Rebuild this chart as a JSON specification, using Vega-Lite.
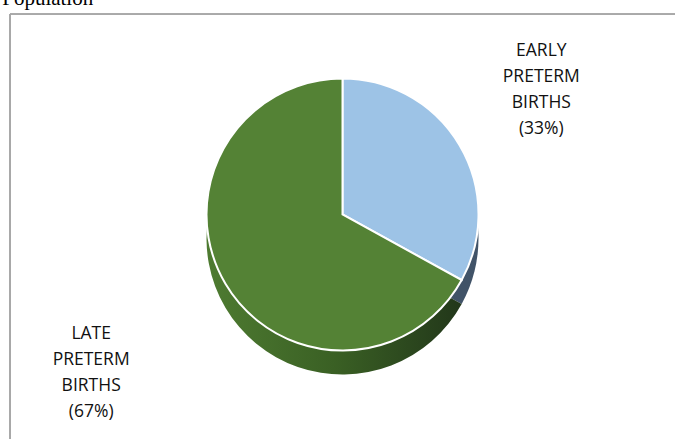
{
  "$schema": "https://vega.github.io/schema/vega-lite/v6.json",
  "autosize": {"type": "none"},
  "width": 665,
  "height": 425,
  "padding": {"left": 10, "top": 14, "right": 0, "bottom": 0},
  "background": "white",
  "title": {"text": "Population", "anchor": "start", "font": "Liberation Serif", "fontSize": 21, "fontWeight": "normal", "color": "black", "baseline": "alphabetic", "offset": -13, "dx": -7},
  "data": {"values": [
    {"cat": "Early", "value": 33, "label": "EARLY\nPRETERM\nBIRTHS\n(33%)"},
    {"cat": "Late", "value": 67, "label": "LATE\nPRETERM\nBIRTHS\n(67%)"}
  ]},
  "layer": [
    {
      "mark": {"type": "rule", "stroke": "#A6A6A6", "strokeWidth": 1.6},
      "encoding": {
        "x": {"value": 0},
        "y": {"value": 0},
        "y2": {"value": {"expr": "height"}}
      }
    },
    {
      "mark": {"type": "rule", "stroke": "#A6A6A6", "strokeWidth": 1.6},
      "encoding": {
        "x": {"value": 0},
        "x2": {"value": {"expr": "width"}},
        "y": {"value": 0}
      }
    },
    {
      "mark": {"type": "arc", "radius": 136, "yOffset": 12},
      "encoding": {
        "theta": {"field": "value", "type": "quantitative", "stack": true},
        "order": {"field": "cat"},
        "color": {
          "condition": {"test": "datum.cat == 'Early'", "value": "#415368"},
          "value": {"gradient": "linear", "x1": 0, "x2": 1, "y1": 0, "y2": 0, "stops": [{"offset": 0, "color": "#4E7B31"}, {"offset": 0.5, "color": "#3A6024"}, {"offset": 1, "color": "#22371A"}]}
        }
      }
    },
    {
      "mark": {"type": "arc", "radius": 136, "yOffset": -12, "stroke": "white", "strokeWidth": 2},
      "encoding": {
        "theta": {"field": "value", "type": "quantitative", "stack": true},
        "order": {"field": "cat"},
        "color": {"field": "cat", "type": "nominal", "legend": null, "scale": {"domain": ["Early", "Late"], "range": ["#9DC3E6", "#548235"]}}
      }
    },
    {
      "mark": {"type": "text", "radius": 231, "dy": -58, "lineBreak": "\n", "lineHeight": 26, "font": "Open Sans", "fontSize": 17.5, "color": "#111111", "align": "center", "baseline": "middle"},
      "encoding": {
        "theta": {"field": "value", "type": "quantitative", "stack": true},
        "order": {"field": "cat"},
        "text": {"condition": {"test": "datum.cat == 'Early'", "field": "label"}, "value": ""}
      }
    },
    {
      "mark": {"type": "text", "radius": 292, "dy": -41, "lineBreak": "\n", "lineHeight": 26, "font": "Open Sans", "fontSize": 17.5, "color": "#111111", "align": "center", "baseline": "middle"},
      "encoding": {
        "theta": {"field": "value", "type": "quantitative", "stack": true},
        "order": {"field": "cat"},
        "text": {"condition": {"test": "datum.cat == 'Late'", "field": "label"}, "value": ""}
      }
    }
  ]
}
